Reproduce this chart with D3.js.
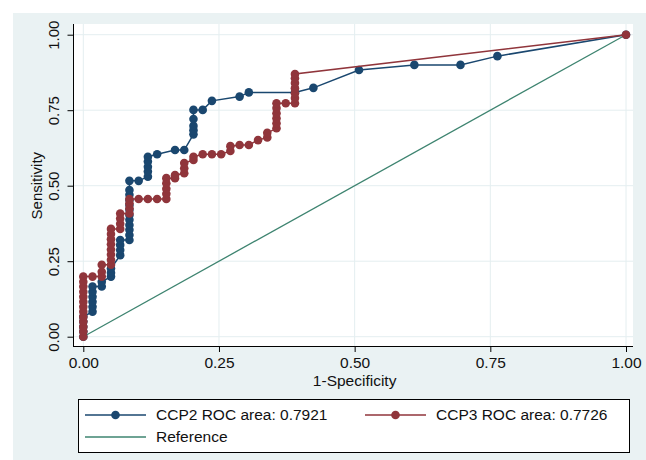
<!DOCTYPE html>
<html>
<head>
    <title>ROC comparison</title>
    <script src="https://d3js.org/d3.v7.min.js"></script>
    <style>
        body { margin: 0; background: #fff; }
        text { font-family: "Liberation Sans", Arial, sans-serif; fill: #111; }
        .grid { stroke: #e4eef0; stroke-width: 1px; }
        .ax { stroke: #000; stroke-width: 1px; shape-rendering: crispEdges; }
    </style>
</head>
<body>
    <svg width="646" height="460"></svg>
    <script>
        // CCP2 curve (1-specificity, sensitivity)
        var ccp2Fpr = [0, 0, 0, 0, 0,
            0.017, 0.017, 0.017, 0.017, 0.017, 0.017,
            0.034, 0.034,
            0.051, 0.051, 0.051,
            0.068, 0.068, 0.068, 0.068,
            0.085, 0.085, 0.085, 0.085, 0.085, 0.085, 0.085, 0.085, 0.085, 0.085, 0.085, 0.085,
            0.102,
            0.119, 0.119, 0.119, 0.119, 0.119,
            0.136, 0.169, 0.186,
            0.203, 0.203, 0.203, 0.203, 0.203,
            0.22, 0.237, 0.288, 0.305, 0.39, 0.424, 0.508, 0.61, 0.695, 0.763, 1];
        var ccp2Sens = [0, 0.017, 0.033, 0.05, 0.066,
            0.083, 0.099, 0.116, 0.132, 0.149, 0.166,
            0.166, 0.182,
            0.199, 0.212, 0.226,
            0.27, 0.287, 0.304, 0.32,
            0.32, 0.337, 0.354, 0.37, 0.387, 0.403, 0.42, 0.436, 0.453, 0.47, 0.486, 0.516,
            0.516,
            0.53, 0.547, 0.563, 0.58, 0.596,
            0.604, 0.618, 0.618,
            0.67, 0.684, 0.698, 0.721, 0.751,
            0.751, 0.781, 0.795, 0.809, 0.809, 0.824, 0.883, 0.9, 0.9, 0.929, 1];

        // CCP3 curve
        var ccp3Fpr = [0, 0, 0, 0, 0, 0, 0, 0, 0, 0, 0, 0, 0,
            0.017,
            0.034, 0.034, 0.034,
            0.051, 0.051, 0.051, 0.051, 0.051, 0.051, 0.051, 0.051,
            0.068, 0.068, 0.068, 0.068,
            0.085, 0.085, 0.085, 0.085,
            0.102, 0.119, 0.136,
            0.153, 0.153, 0.153, 0.153, 0.153,
            0.169, 0.169,
            0.186, 0.186, 0.186,
            0.203, 0.203,
            0.22, 0.237, 0.254,
            0.271, 0.271,
            0.288, 0.305, 0.322,
            0.339, 0.339,
            0.356, 0.356, 0.356, 0.356, 0.356, 0.356,
            0.373,
            0.39, 0.39, 0.39, 0.39, 0.39, 0.39, 0.39,
            1];
        var ccp3Sens = [0, 0.017, 0.033, 0.05, 0.066, 0.083, 0.099, 0.116, 0.132, 0.149, 0.166, 0.182, 0.199,
            0.199,
            0.199, 0.215, 0.238,
            0.238, 0.255, 0.272, 0.289, 0.306, 0.323, 0.34, 0.357,
            0.357, 0.374, 0.391, 0.408,
            0.408, 0.425, 0.442, 0.456,
            0.456, 0.456, 0.456,
            0.456, 0.473, 0.49, 0.508, 0.525,
            0.525, 0.535,
            0.541, 0.558, 0.575,
            0.585, 0.596,
            0.604, 0.604, 0.604,
            0.615, 0.631,
            0.635, 0.635, 0.651,
            0.66, 0.675,
            0.69, 0.707, 0.723, 0.74, 0.757, 0.773,
            0.773,
            0.773, 0.79, 0.806, 0.823, 0.84, 0.856, 0.87,
            1];

        var refLine = [0, 1];
        var tickVals = [0, 0.25, 0.5, 0.75, 1];
        var legendLabels = ["CCP2 ROC area: 0.7921", "CCP3 ROC area: 0.7726", "Reference"];

        var blue = "#1a476f", red = "#90353b", green = "#3e8470";

        var svg = d3.select("svg");

        // outer graph region
        svg.append("rect").attr("x", 13).attr("y", 13).attr("width", 633).attr("height", 447)
            .attr("fill", "#eaf2f3");
        // plot region
        svg.append("rect").attr("x", 73.5).attr("y", 24).attr("width", 559.5).attr("height", 322)
            .attr("fill", "#fff");

        var x = d3.scaleLinear().domain([0, 1]).range([83.3, 626]);
        var y = d3.scaleLinear().domain([0, 1]).range([336.7, 34.7]);

        // grid
        svg.selectAll(".gx").data(tickVals).enter().append("line")
            .attr("class", "grid")
            .attr("x1", function(d) { return x(d); }).attr("x2", function(d) { return x(d); })
            .attr("y1", 24).attr("y2", 346);
        svg.selectAll(".gy").data(tickVals).enter().append("line")
            .attr("class", "grid")
            .attr("y1", function(d) { return y(d); }).attr("y2", function(d) { return y(d); })
            .attr("x1", 73.5).attr("x2", 633);

        // axes
        var xAxis = svg.append("g").attr("transform", "translate(0,346)")
            .call(d3.axisBottom(x).tickValues(tickVals).tickFormat(d3.format(".2f")).tickSize(6));
        xAxis.select(".domain").remove();
        xAxis.selectAll("text").attr("y", 17).attr("dy", "0.35em")
            .style("font-size", "15.5px").attr("fill", "#111");

        var yAxis = svg.append("g").attr("transform", "translate(73.5,0)")
            .call(d3.axisLeft(y).tickValues(tickVals).tickFormat(d3.format(".2f")).tickSize(6));
        yAxis.select(".domain").remove();
        yAxis.selectAll("text")
            .attr("x", 0).attr("dy", "0.35em")
            .attr("transform", "translate(-20,0) rotate(-90)")
            .style("text-anchor", "middle").style("font-size", "15px").attr("fill", "#111");
        svg.selectAll(".tick line").attr("stroke", "#000");

        svg.append("line").attr("class", "ax").attr("x1", 73.5).attr("x2", 73.5).attr("y1", 24).attr("y2", 346.5);
        svg.append("line").attr("class", "ax").attr("x1", 73.5).attr("x2", 633).attr("y1", 346.5).attr("y2", 346.5);

        // titles
        svg.append("text").attr("x", x(0.5)).attr("y", 381).attr("dy", "0.35em")
            .attr("text-anchor", "middle").style("font-size", "15.5px").text("1-Specificity");
        svg.append("text").attr("transform", "translate(36.7," + y(0.5) + ") rotate(-90)")
            .attr("dy", "0.35em").attr("text-anchor", "middle").style("font-size", "15px").text("Sensitivity");

        var line = d3.line().x(function(d) { return x(d[0]); }).y(function(d) { return y(d[1]); });

        // reference diagonal
        svg.append("path").datum(d3.zip(refLine, refLine)).attr("d", line)
            .attr("fill", "none").attr("stroke", green).attr("stroke-width", 1.3);

        function drawCurve(fpr, sens, color) {
            var pts = d3.zip(fpr, sens);
            svg.append("path").datum(pts).attr("d", line)
                .attr("fill", "none").attr("stroke", color).attr("stroke-width", 1.5);
            svg.append("g").selectAll("circle").data(pts).enter().append("circle")
                .attr("cx", function(d) { return x(d[0]); })
                .attr("cy", function(d) { return y(d[1]); })
                .attr("r", 4.3).attr("fill", color);
        }
        drawCurve(ccp2Fpr, ccp2Sens, blue);
        drawCurve(ccp3Fpr, ccp3Sens, red);

        // legend
        var lg = svg.append("g");
        lg.append("rect").attr("x", 78.5).attr("y", 399.5).attr("width", 551).attr("height", 53)
            .attr("fill", "#fff").attr("stroke", "#000").attr("stroke-width", 1);
        var keys = [
            { cx: 85, cy: 415, color: blue, dot: true },
            { cx: 365, cy: 415, color: red, dot: true },
            { cx: 85, cy: 437, color: green, dot: false }
        ];
        keys.forEach(function(k, i) {
            lg.append("line").attr("x1", k.cx).attr("x2", k.cx + 61).attr("y1", k.cy).attr("y2", k.cy)
                .attr("stroke", k.color).attr("stroke-width", 1.5);
            if (k.dot) {
                lg.append("circle").attr("cx", k.cx + 30.5).attr("cy", k.cy).attr("r", 4.3).attr("fill", k.color);
            }
            lg.append("text").attr("x", k.cx + 71).attr("y", k.cy).attr("dy", "0.35em")
                .style("font-size", "15.5px").text(legendLabels[i]);
        });
    </script>
</body>
</html>
